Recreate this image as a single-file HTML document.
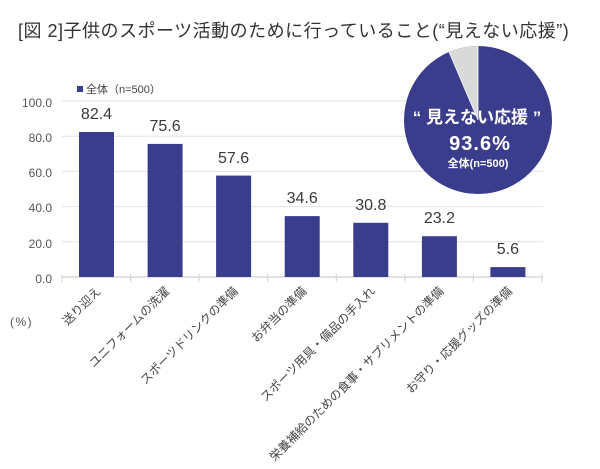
<!DOCTYPE html>
<html>
<head>
<meta charset="utf-8">
<style>
  html, body { margin: 0; padding: 0; background: #ffffff; }
  body { width: 600px; height: 469px; overflow: hidden; }
  svg { display: block; }
  text { font-family: "Liberation Sans", "Noto Sans CJK JP", sans-serif; }
</style>
</head>
<body>
<svg width="600" height="469" viewBox="0 0 600 469" xmlns="http://www.w3.org/2000/svg">
  <rect x="0" y="0" width="600" height="469" fill="#ffffff"/>

  <!-- Title -->
  <text x="18" y="37" font-size="18" fill="#333333" letter-spacing="0.5">[図 2]子供のスポーツ活動のために行っていること(“見えない応援”)</text>

  <!-- Gridlines -->
  <g stroke="#e2e2e2" stroke-width="1">
    <line x1="62" y1="101" x2="543" y2="101"/>
    <line x1="62" y1="136.2" x2="543" y2="136.2"/>
    <line x1="62" y1="171.4" x2="543" y2="171.4"/>
    <line x1="62" y1="206.6" x2="543" y2="206.6"/>
    <line x1="62" y1="241.8" x2="543" y2="241.8"/>
  </g>
  <!-- Axis -->
  <line x1="62" y1="277" x2="543" y2="277" stroke="#d0d0d0" stroke-width="1.2"/>
  <g stroke="#d0d0d0" stroke-width="1">
    <line x1="62" y1="274" x2="62" y2="282"/>
    <line x1="130.6" y1="274" x2="130.6" y2="282"/>
    <line x1="199.1" y1="274" x2="199.1" y2="282"/>
    <line x1="267.7" y1="274" x2="267.7" y2="282"/>
    <line x1="336.3" y1="274" x2="336.3" y2="282"/>
    <line x1="404.9" y1="274" x2="404.9" y2="282"/>
    <line x1="473.4" y1="274" x2="473.4" y2="282"/>
    <line x1="542" y1="274" x2="542" y2="282"/>
  </g>

  <!-- Y labels -->
  <g font-size="12" fill="#555555" text-anchor="end">
    <text x="52" y="107">100.0</text>
    <text x="52" y="142">80.0</text>
    <text x="52" y="177">60.0</text>
    <text x="52" y="212">40.0</text>
    <text x="52" y="248">20.0</text>
    <text x="52" y="283">0.0</text>
  </g>
  <text x="10" y="326" font-size="12" fill="#555555" letter-spacing="1.5">(%)</text>

  <!-- Legend -->
  <rect x="77" y="86" width="6" height="6" fill="#3a3d8b"/>
  <text x="86" y="93" font-size="11" fill="#444444">全体（n=500）</text>

  <!-- Bars -->
  <g fill="#3a3d8b">
    <rect x="79" y="132.0" width="35" height="145.0"/>
    <rect x="147.6" y="143.9" width="35" height="133.1"/>
    <rect x="216.1" y="175.6" width="35" height="101.4"/>
    <rect x="284.7" y="216.1" width="35" height="60.9"/>
    <rect x="353.3" y="222.8" width="35" height="54.2"/>
    <rect x="421.9" y="236.2" width="35" height="40.8"/>
    <rect x="490.4" y="267.1" width="35" height="9.9"/>
  </g>

  <!-- Value labels -->
  <g font-size="16" fill="#3a3a3a" text-anchor="middle">
    <text x="96.5" y="119">82.4</text>
    <text x="165.1" y="131">75.6</text>
    <text x="233.6" y="163">57.6</text>
    <text x="302.2" y="203">34.6</text>
    <text x="370.8" y="210">30.8</text>
    <text x="439.4" y="223">23.2</text>
    <text x="507.9" y="254">5.6</text>
  </g>

  <!-- X labels rotated -->
  <g font-size="12" fill="#444444" text-anchor="end">
    <text transform="translate(101.5,292) rotate(-45)">送り迎え</text>
    <text transform="translate(170.1,292) rotate(-45)">ユニフォームの洗濯</text>
    <text transform="translate(238.6,292) rotate(-45)">スポーツドリンクの準備</text>
    <text transform="translate(307.2,292) rotate(-45)">お弁当の準備</text>
    <text transform="translate(375.8,292) rotate(-45)">スポーツ用具・備品の手入れ</text>
    <text transform="translate(444.4,292) rotate(-45)">栄養補給のための食事・サプリメントの準備</text>
    <text transform="translate(512.9,292) rotate(-45)">お守り・応援グッズの準備</text>
  </g>

  <!-- Pie -->
  <circle cx="478" cy="120" r="74" fill="#3a3d8b"/>
  <path d="M478,120 L478,46 A74,74 0 0 0 449.0,51.9 Z" fill="#d9d9d9"/>
  <line x1="478" y1="120" x2="478" y2="46" stroke="#ffffff" stroke-width="0.8"/>
  <line x1="478" y1="120" x2="449.0" y2="51.9" stroke="#ffffff" stroke-width="0.8"/>

  <text x="477" y="123" font-size="17" font-weight="bold" fill="#ffffff" text-anchor="middle">“ 見えない応援 ”</text>
  <text x="480" y="150" font-size="20" font-weight="bold" fill="#ffffff" text-anchor="middle" letter-spacing="1">93.6%</text>
  <text x="478" y="167" font-size="11" font-weight="bold" fill="#ffffff" text-anchor="middle">全体(n=500)</text>
</svg>
</body>
</html>
